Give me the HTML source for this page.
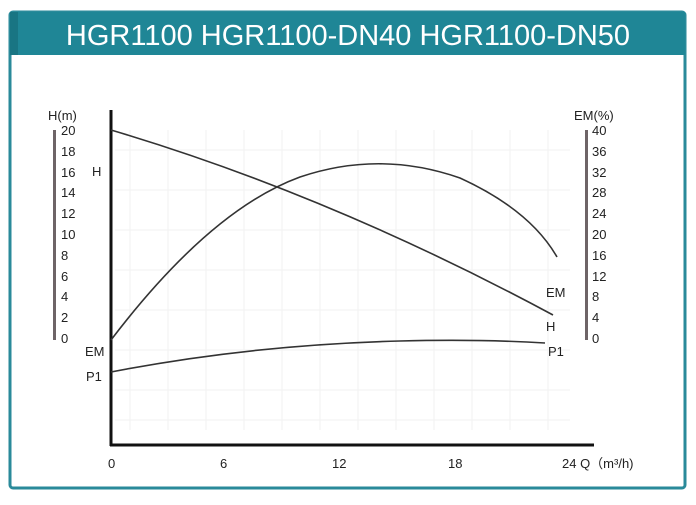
<!DOCTYPE html><html><head><style>body{margin:0;background:#fff;width:696px;height:500px;overflow:hidden}</style></head><body>
<svg width="696" height="500" xmlns="http://www.w3.org/2000/svg" font-family="Liberation Sans, sans-serif">
<rect x="10" y="12" width="675" height="476" fill="#fff" stroke="#2a8a9a" stroke-width="3" rx="3"/>
<rect x="10" y="12" width="675" height="43" fill="#1f8696"/>
<rect x="10" y="12" width="8" height="43" fill="#197583"/>
<text x="348" y="45" font-size="29" fill="#fff" text-anchor="middle">HGR1100 HGR1100-DN40 HGR1100-DN50</text>
<g stroke="#f2f2f2" stroke-width="1">
<path d="M130 130V430M168 130V430M206 130V430M244 130V430M282 130V430M320 130V430M358 130V430M396 130V430M434 130V430M472 130V430M510 130V430M548 130V430"/>
<path d="M115 150H570M115 190H570M115 230H570M115 270H570M115 310H570M115 350H570M115 390H570M115 420H570"/>
</g>
<line x1="111" y1="110" x2="111" y2="446" stroke="#111" stroke-width="3"/>
<line x1="110" y1="445" x2="594" y2="445" stroke="#111" stroke-width="3"/>
<rect x="53" y="130" width="3" height="210" fill="#6e6467"/>
<rect x="585" y="130" width="3" height="210" fill="#6e6467"/>
<g font-size="13" fill="#222">
<text x="48" y="120">H(m)</text>
<text x="574" y="120">EM(%)</text>
<g text-anchor="start">
<text x="61" y="135">20</text><text x="61" y="156">18</text><text x="61" y="177">16</text><text x="61" y="197">14</text><text x="61" y="218">12</text><text x="61" y="239">10</text><text x="61" y="260">8</text><text x="61" y="281">6</text><text x="61" y="301">4</text><text x="61" y="322">2</text><text x="61" y="343">0</text>
<text x="592" y="135">40</text><text x="592" y="156">36</text><text x="592" y="177">32</text><text x="592" y="197">28</text><text x="592" y="218">24</text><text x="592" y="239">20</text><text x="592" y="260">16</text><text x="592" y="281">12</text><text x="592" y="301">8</text><text x="592" y="322">4</text><text x="592" y="343">0</text>
</g>
<text x="92" y="176">H</text>
<text x="85" y="356">EM</text>
<text x="86" y="381">P1</text>
<text x="546" y="297">EM</text>
<text x="546" y="331">H</text>
<text x="548" y="356">P1</text>
<text x="108" y="468">0</text><text x="220" y="468">6</text><text x="332" y="468">12</text><text x="448" y="468">18</text><text x="562" y="468">24 Q（m³/h)</text>
</g>
<g fill="none" stroke="#333" stroke-width="1.6">
<path d="M111 130 Q330 195 553 315"/>
<path d="M111 340 Q210 210 300 177 Q380 150 460 178 Q530 210 557 257"/>
<path d="M111 372 Q250 345 400 341 Q480 339 545 343"/>
</g>
</svg></body></html>
